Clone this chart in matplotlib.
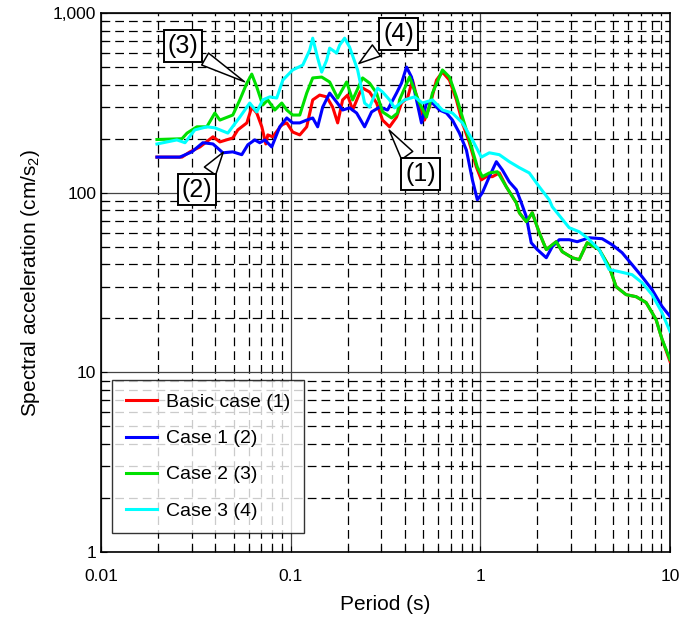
import matplotlib
matplotlib.use("Agg")
import matplotlib.pyplot as plt
from matplotlib.ticker import FixedLocator, FuncFormatter, NullFormatter

plt.rcParams['font.family'] = ['Liberation Sans', 'DejaVu Sans']
plt.rcParams['mathtext.fontset'] = 'custom'
plt.rcParams['mathtext.rm'] = 'Liberation Sans'

# Basic case (1)
t_basic = [0.0197, 0.0267, 0.0294, 0.0332, 0.0389, 0.0423, 0.0495, 0.0526, 0.0587, 0.0623,
           0.0662, 0.0704, 0.0739, 0.0757, 0.0804, 0.0897, 0.0953, 0.1024, 0.1116, 0.1214,
           0.1306, 0.1421, 0.1547, 0.1664, 0.1768, 0.1878, 0.1995, 0.212, 0.2308, 0.2393,
           0.2605, 0.2836, 0.305, 0.3319, 0.3614, 0.3839, 0.4128, 0.4386, 0.466, 0.5074,
           0.539, 0.5868, 0.631, 0.6869, 0.7478, 0.804, 0.8751, 0.9527, 1.012, 1.075,
           1.157, 1.259, 1.37, 1.547, 1.605, 1.747, 1.878, 2.044, 2.226, 2.512,
           2.702, 3.049, 3.319, 3.657, 4.23, 4.775, 5.197, 5.867, 6.624, 7.478,
           8.441, 9.076, 10.0]
sa_basic = [158, 158, 169, 180, 205, 192, 202, 224, 245, 300,
            278, 233, 187, 210, 205, 239, 245, 218, 210, 233,
            329, 350, 342, 300, 245, 329, 350, 289, 359, 383,
            364, 316, 254, 233, 264, 316, 337, 424, 329, 254,
            300, 424, 470, 424, 329, 245, 190, 139, 118, 123,
            123, 129, 108, 88.0, 77.4, 69.0, 77.4, 60.0, 48.3, 53.4,
            47.0, 43.5, 42.4, 52.7, 48.3, 38.8, 30.0, 27.1, 26.4, 24.5,
            19.7, 15.3, 11.5]

# Case 1 (2)
t_case1 = [0.0197, 0.026, 0.0301, 0.0344, 0.0389, 0.0439, 0.0495, 0.0552, 0.0594, 0.0646,
           0.0687, 0.073, 0.0794, 0.0875, 0.0953, 0.1024, 0.1116, 0.1214, 0.1306, 0.1387,
           0.1474, 0.1604, 0.1746, 0.1878, 0.2044, 0.2226, 0.2452, 0.2669, 0.2941, 0.3239,
           0.3614, 0.3839, 0.4078, 0.4334, 0.4604, 0.4892, 0.5197, 0.559, 0.6083, 0.6624,
           0.7124, 0.7753, 0.844, 0.9076, 0.964, 1.024, 1.115, 1.214, 1.306, 1.421,
           1.547, 1.644, 1.747, 1.854, 1.995, 2.226, 2.393, 2.605, 2.94, 3.239,
           3.747, 4.386, 4.95, 5.589, 6.31, 7.121, 8.04, 9.076, 10.0]
sa_case1 = [158, 158, 169, 190, 187, 167, 169, 163, 185, 197,
            190, 197, 180, 233, 261, 245, 245, 254, 261, 233,
            300, 359, 320, 289, 297, 278, 233, 282, 300, 289,
            359, 408, 501, 441, 329, 245, 316, 316, 289, 278,
            254, 215, 173, 118, 91.4, 100, 123, 149, 134, 115,
            104, 88.0, 73.6, 52.7, 48.3, 43.5, 50.1, 54.8, 54.8, 53.4,
            56.2, 55.5, 51.4, 46.4, 39.8, 34.1, 28.9, 23.3, 20.5]

# Case 2 (3)
t_case2 = [0.0197, 0.0267, 0.0284, 0.032, 0.0361, 0.0398, 0.0423, 0.0495, 0.0539, 0.0587,
           0.0623, 0.0662, 0.0712, 0.0757, 0.0824, 0.0897, 0.0953, 0.1024, 0.1116, 0.1214,
           0.1306, 0.1456, 0.1604, 0.1768, 0.1971, 0.212, 0.2393, 0.2605, 0.2836, 0.305,
           0.340, 0.3657, 0.3747, 0.423, 0.4775, 0.5197, 0.559, 0.631, 0.6869, 0.7478,
           0.804, 0.8751, 0.964, 1.024, 1.115, 1.229, 1.37, 1.547, 1.605, 1.747,
           1.878, 2.044, 2.226, 2.512, 2.702, 3.049, 3.319, 3.657, 4.23, 4.775,
           5.197, 5.867, 6.624, 7.478, 8.441, 9.076, 10.0]
sa_case2 = [198, 200, 215, 233, 233, 278, 254, 271, 329, 408,
            458, 388, 308, 329, 289, 316, 289, 271, 271, 359,
            436, 441, 414, 337, 414, 329, 436, 408, 359, 282,
            261, 278, 329, 441, 316, 264, 359, 483, 441, 342,
            264, 197, 139, 123, 129, 131, 108, 88.0, 77.4, 69.0,
            77.4, 60.0, 48.3, 53.4, 47.0, 43.5, 42.4, 52.7, 48.3, 38.8,
            30.0, 27.1, 26.4, 24.5, 19.7, 15.3, 11.8]

# Case 3 (4)
t_case3 = [0.0197, 0.0223, 0.0251, 0.0277, 0.0312, 0.0361, 0.0398, 0.0466, 0.0539, 0.0608,
           0.0662, 0.0712, 0.0775, 0.0844, 0.0908, 0.1024, 0.1157, 0.1259, 0.1306, 0.1387,
           0.1456, 0.1547, 0.1604, 0.1746, 0.1811, 0.1924, 0.2044, 0.2253, 0.2452, 0.2605,
           0.2871, 0.305, 0.3319, 0.3527, 0.398, 0.4494, 0.495, 0.559, 0.631, 0.7124,
           0.804, 0.9076, 1.012, 1.115, 1.259, 1.421, 1.605, 1.811, 2.044, 2.308,
           2.393, 2.94, 3.319, 3.657, 4.23, 4.775, 5.39, 6.31, 7.121, 8.04,
           9.076, 10.0]
sa_case3 = [187, 192, 197, 190, 224, 233, 230, 215, 264, 316,
            282, 329, 342, 337, 424, 483, 514, 623, 726, 562,
            470, 548, 639, 600, 664, 726, 647, 483, 316, 300,
            383, 364, 329, 297, 329, 342, 316, 329, 289, 278,
            245, 197, 158, 167, 163, 149, 138, 129, 108, 91.4,
            83.6, 63.9, 60.7, 56.2, 48.3, 37.4, 36.4, 35.0, 31.6, 27.1,
            21.5, 16.9]

series_labels = ["Basic case (1)", "Case 1 (2)", "Case 2 (3)", "Case 3 (4)"]
series_colors = ["#ff0000", "#0000ff", "#00e000", "#00ffff"]

# callouts: label, text position, tip position
callout_text = ["(1)", "(2)", "(3)", "(4)"]
callout_xy_text = [(0.483, 127), (0.032, 104), (0.027, 655), (0.370, 764)]
callout_xy_tip = [(0.3239, 230), (0.0449, 173), (0.0587, 408), (0.2226, 514)]

fig = plt.figure(figsize=(6.83, 6.28), dpi=100)
ax = fig.add_axes([0.148, 0.121, 0.833, 0.858])

curves = [(t_basic, sa_basic), (t_case1, sa_case1), (t_case2, sa_case2), (t_case3, sa_case3)]
for (t, sa), lab, col in zip(curves, series_labels, series_colors):
    ax.plot(t, sa, color=col, lw=2.2, label=lab, zorder=3)

ax.set_xscale("log")
ax.set_yscale("log")
ax.set_xlim(0.01, 10)
ax.set_ylim(1, 1000)

ax.xaxis.set_major_locator(FixedLocator([0.01, 0.1, 1, 10]))
ax.yaxis.set_major_locator(FixedLocator([1, 10, 100, 1000]))
minors_x = [m * 10.0 ** e for e in (-2, -1, 0) for m in range(2, 10)]
minors_y = [m * 10.0 ** e for e in (0, 1, 2) for m in range(2, 10)]
ax.xaxis.set_minor_locator(FixedLocator(minors_x))
ax.yaxis.set_minor_locator(FixedLocator(minors_y))
ax.xaxis.set_minor_formatter(NullFormatter())
ax.yaxis.set_minor_formatter(NullFormatter())
ax.xaxis.set_major_formatter(FuncFormatter(lambda v, p: f"{v:g}"))
ax.yaxis.set_major_formatter(FuncFormatter(lambda v, p: f"{int(round(v)):,}"))

ax.grid(which="major", color="#444444", lw=0.9, ls="-")
ax.grid(which="minor", color="black", lw=0.9, ls=(0, (7, 4)))
ax.set_axisbelow(True)
ax.tick_params(which="both", direction="in", labelsize=12.5, length=4, width=0.8)
ax.tick_params(axis="x", pad=12)
for sp in ax.spines.values():
    sp.set_linewidth(1.2)

ax.set_xlabel("Period (s)", fontsize=15, labelpad=8)
ax.set_ylabel("Spectral acceleration (cm/s$\\mathregular{_2}$)", fontsize=15, labelpad=8)

for txt, xyt, xy in zip(callout_text, callout_xy_text, callout_xy_tip):
    ax.annotate(txt, xy=xy, xytext=xyt, fontsize=18, ha="center", va="center",
                bbox=dict(boxstyle="square,pad=0.15", fc="white", ec="black", lw=1.4),
                arrowprops=dict(arrowstyle="wedge,tail_width=0.55,shrink_factor=0.5",
                                fc="white", ec="black", lw=1.1),
                zorder=5)

leg = ax.legend(loc="lower left", bbox_to_anchor=(0.019, 0.035), borderaxespad=0,
                fontsize=14, fancybox=False, frameon=True, edgecolor="black",
                handlelength=1.6, handletextpad=0.5, labelspacing=0.95, borderpad=0.7)
leg.get_frame().set_linewidth(1.0)
for h in leg.get_lines():
    h.set_linewidth(2.2)

fig.savefig("out.png", dpi=100)
